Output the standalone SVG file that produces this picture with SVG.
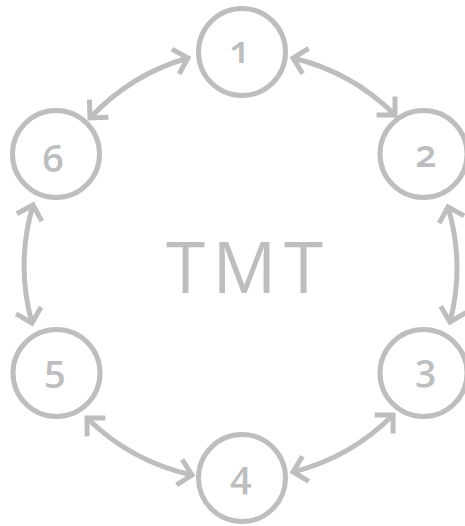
<svg xmlns="http://www.w3.org/2000/svg" width="465" height="526" viewBox="0 0 465 526">
  <style>
    .ring { fill: none; stroke: #bcbec0; stroke-width: 5; }
    .num { font-family: "Open Sans", "Noto Sans", "Liberation Sans", sans-serif; font-weight: 600; font-size: 38px; fill: #bcbec0; text-anchor: middle; font-variant-numeric: oldstyle-nums; font-feature-settings: "onum" 1; }
    .title { font-family: "Open Sans", "Liberation Sans", Arial, sans-serif; font-weight: 400; font-size: 71px; fill: #bcbec0; text-anchor: middle; }
    .link { fill: none; stroke: #bcbec0; stroke-width: 5; marker-start: url(#chev); marker-end: url(#chev); }
  </style>
  <defs>
    <marker id="chev" markerUnits="userSpaceOnUse" markerWidth="40" markerHeight="40" refX="0" refY="0" orient="auto-start-reverse" overflow="visible">
      <path d="M-13,-13 L0,0 L-13,13" fill="none" stroke="#bcbec0" stroke-width="5" stroke-linejoin="miter"/>
    </marker>
  </defs>

  <rect width="465" height="526" fill="#ffffff"/>

  <!-- double-headed arcs between neighbouring stages -->
  <g id="connectors">
    <path class="link" d="M90,118 A215,215 0 0 1 188,58"/>
    <path class="link" d="M293,58 A215,215 0 0 1 395,115"/>
    <path class="link" d="M448,207 A215,215 0 0 1 450,322"/>
    <path class="link" d="M393,415 A215,215 0 0 1 293,472"/>
    <path class="link" d="M192,475 A215,215 0 0 1 87,418"/>
    <path class="link" d="M32,323 A215,215 0 0 1 33,205"/>
  </g>

  <g id="title">
    <text class="title" x="244.5" y="293" textLength="157" lengthAdjust="spacing">TMT</text>
  </g>

  <g id="node-1">
    <circle class="ring" cx="242" cy="52" r="43.5"/>
    <text class="num" x="240" y="63">1</text>
  </g>
  <g id="node-2">
    <circle class="ring" cx="423.5" cy="154" r="43.5"/>
    <text class="num" x="426" y="167">2</text>
  </g>
  <g id="node-3">
    <circle class="ring" cx="423.5" cy="373" r="43.5"/>
    <text class="num" x="426" y="381">3</text>
  </g>
  <g id="node-4">
    <circle class="ring" cx="242" cy="478" r="43.5"/>
    <text class="num" x="241" y="488">4</text>
  </g>
  <g id="node-5">
    <circle class="ring" cx="56.5" cy="373" r="43.5"/>
    <text class="num" x="55" y="382">5</text>
  </g>
  <g id="node-6">
    <circle class="ring" cx="56" cy="154" r="43.5"/>
    <text class="num" x="53" y="172">6</text>
  </g>
</svg>
